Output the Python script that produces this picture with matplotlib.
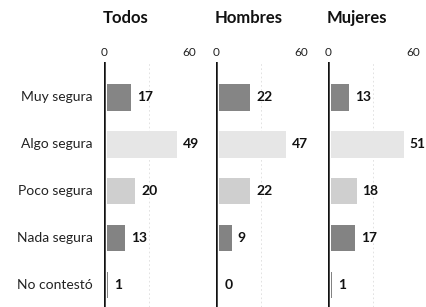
import matplotlib.pyplot as plt

categories = ["Muy segura", "Algo segura", "Poco segura", "Nada segura", "No contestó"]
panels = ["Todos", "Hombres", "Mujeres"]
todos = [17, 49, 20, 13, 1]
hombres = [22, 47, 22, 9, 0]
mujeres = [13, 51, 18, 17, 1]
values = [todos, hombres, mujeres]
colors = ["#858585", "#e6e6e6", "#cfcfcf", "#838383", "#838383"]

plt.rcParams["font.family"] = ["Lato", "DejaVu Sans"]

W, H = 427, 307
fig = plt.figure(figsize=(W / 100, H / 100), dpi=100)

axis_x = [104, 216, 328]
scale_px = 90  # pixels spanned by the axis
top_px, bot_px = 62, 307
rows = list(range(len(categories)))

for k, (name, vals) in enumerate(zip(panels, values)):
    left = axis_x[k] / W
    ax = fig.add_axes([left, 1 - bot_px / H, scale_px / W, (bot_px - top_px) / H])
    ax.set_xlim(0, 63)
    ax.set_ylim(4.47, -0.75)
    for g in (31.5, 63):
        ax.axvline(g, color="#dddddd", lw=0.6, ls=(0, (2, 3)), zorder=0)
    ax.barh(rows, vals, height=0.57, left=2, color=colors, zorder=2)
    ax.axvline(0, color="#111111", lw=1.8, zorder=3)
    for r, v in zip(rows, vals):
        ax.text(v + 6, r, str(v), va="center", ha="left", fontsize=10,
                fontweight="bold", color="#111111", clip_on=False)
    for s in ax.spines.values():
        s.set_visible(False)
    ax.set_yticks([])
    ax.xaxis.tick_top()
    ax.set_xticks([0, 60])
    ax.set_xticklabels(["0", "60"])
    ax.tick_params(axis="x", length=0, pad=3, labelsize=8.5, colors="#222222")
    ax.set_title(name, loc="left", x=-0.01, fontsize=12, fontweight="bold",
                 color="#111111", pad=28)
    ax.patch.set_alpha(0)
    if k == 0:
        for r, c in zip(rows, categories):
            ax.text(-8, r, c, va="center", ha="right", fontsize=10,
                    color="#222222", clip_on=False)

fig.savefig("out.png", dpi=100, facecolor="white")
